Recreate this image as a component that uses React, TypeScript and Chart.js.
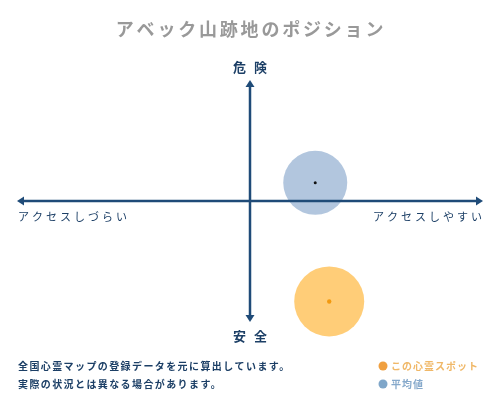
import React, { useEffect, useRef } from "react";
import { Chart, registerables } from "chart.js";

Chart.register(...registerables);

const titleText = "アベック山跡地のポジション";
const seriesLabels = ["この心霊スポット", "平均値"];
const accessValues = [34, 28];
const dangerValues = [-83, 15];
const bubbleRadii = [35, 32];
const axisExtent = 100;
const topLabel = "危険";
const bottomLabel = "安全";
const leftLabel = "アクセスしづらい";
const rightLabel = "アクセスしやすい";
const noteLines = [
  "全国心霊マップの登録データを元に算出しています。",
  "実際の状況とは異なる場合があります。",
];

const FONT = '"Noto Sans CJK JP", "Noto Sans", sans-serif';
const AXIS_COLOR = "#1f4b78";
const fillColors = ["rgba(255, 200, 105, 0.9)", "rgba(165, 188, 216, 0.85)"];
const dotColors = ["#f39a10", "#111111"];
const dotRadii = [2.2, 1.5];
const legendDotColors = ["#f0a040", "#7fa6c9"];
const legendTextColors = ["#f0b868", "#86a9cb"];

const overlayPlugin = {
  id: "overlay",
  afterDatasetsDraw(chart: any) {
    const { ctx, scales } = chart;
    const cx = scales.x.getPixelForValue(0);
    const cy = scales.y.getPixelForValue(0);
    const left = scales.x.getPixelForValue(-axisExtent);
    const right = scales.x.getPixelForValue(axisExtent);
    const top = scales.y.getPixelForValue(axisExtent);
    const bottom = scales.y.getPixelForValue(-axisExtent);
    ctx.save();
    ctx.strokeStyle = AXIS_COLOR;
    ctx.fillStyle = AXIS_COLOR;
    ctx.lineWidth = 2.5;
    const ah = 7;
    const aw = 4.5;
    ctx.beginPath();
    ctx.moveTo(left + 3, cy);
    ctx.lineTo(right - 3, cy);
    ctx.moveTo(cx, top + 3);
    ctx.lineTo(cx, bottom - 3);
    ctx.stroke();
    const tri = (pts: number[][]) => {
      ctx.beginPath();
      ctx.moveTo(pts[0][0], pts[0][1]);
      ctx.lineTo(pts[1][0], pts[1][1]);
      ctx.lineTo(pts[2][0], pts[2][1]);
      ctx.closePath();
      ctx.fill();
    };
    tri([[left, cy], [left + ah, cy - aw], [left + ah, cy + aw]]);
    tri([[right, cy], [right - ah, cy - aw], [right - ah, cy + aw]]);
    tri([[cx, top], [cx - aw, top + ah], [cx + aw, top + ah]]);
    tri([[cx, bottom], [cx - aw, bottom - ah], [cx + aw, bottom - ah]]);

    // center dots of the bubbles
    chart.data.datasets.slice(0, 2).forEach((ds: any, i: number) => {
      const p = ds.data[0];
      ctx.beginPath();
      ctx.fillStyle = dotColors[i];
      ctx.arc(scales.x.getPixelForValue(p.x), scales.y.getPixelForValue(p.y), dotRadii[i], 0, Math.PI * 2);
      ctx.fill();
    });

    // axis labels
    ctx.textBaseline = "middle";
    ctx.font = `bold 13px ${FONT}`;
    (ctx as any).letterSpacing = "8px";
    ctx.textAlign = "center";
    ctx.fillStyle = "#1c3f66";
    ctx.fillText(topLabel, cx + 4, top - 13);
    ctx.fillText(bottomLabel, cx + 4, bottom + 14);

    ctx.font = `11px ${FONT}`;
    (ctx as any).letterSpacing = "3px";
    ctx.textAlign = "left";
    ctx.fillText(leftLabel, left + 1, cy + 16);
    ctx.textAlign = "right";
    ctx.fillText(rightLabel, right + 2, cy + 16);

    // title
    ctx.font = `bold 18px ${FONT}`;
    (ctx as any).letterSpacing = "2.8px";
    ctx.textAlign = "center";
    ctx.fillStyle = "#999999";
    ctx.fillText(titleText, chart.width / 2 + 1, 29);

    // notes
    ctx.font = `bold 10px ${FONT}`;
    (ctx as any).letterSpacing = "1.4px";
    ctx.textAlign = "left";
    ctx.fillStyle = "#1c3f66";
    noteLines.forEach((line, i) => ctx.fillText(line, 18, 366 + i * 18));

    // legend
    chart.data.datasets.slice(0, 2).forEach((ds: any, i: number) => {
      const y = 366 + i * 18;
      ctx.beginPath();
      ctx.fillStyle = legendDotColors[i];
      ctx.arc(383, y, 4.5, 0, Math.PI * 2);
      ctx.fill();
      ctx.font = `bold 10px ${FONT}`;
      (ctx as any).letterSpacing = "1px";
      ctx.fillStyle = legendTextColors[i];
      ctx.textAlign = "left";
      ctx.fillText(ds.label, 391, y);
    });
    ctx.restore();
  },
};

export default function App() {
  const ref = useRef<HTMLCanvasElement>(null);
  useEffect(() => {
    if (!ref.current) return;
    // chart area horizontally is 36..464 (bubble overflow padding); axis spans 17..483
    const xSpan = axisExtent * (214 / 233);
    const chart = new Chart(ref.current, {
      type: "bubble",
      data: {
        datasets: [
          {
            label: seriesLabels[0],
            data: [{ x: accessValues[0], y: dangerValues[0], r: bubbleRadii[0] }],
            backgroundColor: fillColors[0],
            borderWidth: 0,
            clip: false as any,
          },
          {
            label: seriesLabels[1],
            data: [{ x: accessValues[1], y: dangerValues[1], r: bubbleRadii[1] }],
            backgroundColor: fillColors[1],
            borderWidth: 0,
            clip: false as any,
          },
        ],
      },
      options: {
        responsive: false,
        animation: false,
        layout: { padding: { left: 36, right: 36, top: 80, bottom: 78 } },
        scales: {
          x: { display: false, min: -xSpan, max: xSpan },
          y: { display: false, min: -axisExtent, max: axisExtent },
        },
        plugins: {
          legend: { display: false },
          tooltip: { enabled: false },
          title: { display: false },
        },
      },
      plugins: [overlayPlugin],
    });
    return () => chart.destroy();
  }, []);
  return (
    <div style={{ position: "absolute", left: 0, top: 0, width: 500, height: 400, background: "#fff" }}>
      <canvas ref={ref} width={500} height={400} style={{ width: 500, height: 400 }} />
    </div>
  );
}
